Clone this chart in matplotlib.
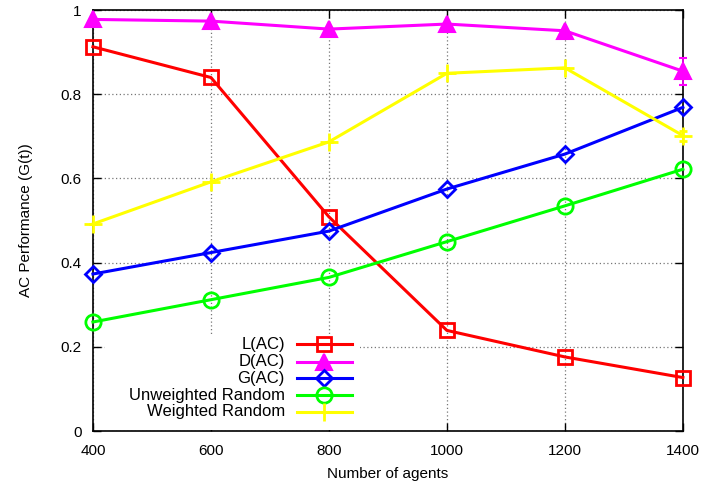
import matplotlib
matplotlib.use("Agg")
import matplotlib.pyplot as plt
from matplotlib.patches import Rectangle

plt.rcParams['font.family'] = ['Liberation Sans', 'DejaVu Sans']

# data
agents = [400, 600, 800, 1000, 1200, 1400]
l_ac = [0.913, 0.840, 0.509, 0.239, 0.176, 0.127]
d_ac = [0.978, 0.974, 0.955, 0.967, 0.951, 0.855]
d_err = [0.0, 0.0, 0.0, 0.0, 0.0, 0.032]
g_ac = [0.373, 0.424, 0.475, 0.575, 0.658, 0.769]
unweighted = [0.259, 0.312, 0.365, 0.450, 0.535, 0.622]
weighted = [0.492, 0.592, 0.687, 0.850, 0.863, 0.702]
weighted_err = [0.0, 0.0, 0.0, 0.0, 0.0, 0.012]

series_names = ['L(AC)', 'D(AC)', 'G(AC)', 'Unweighted Random', 'Weighted Random']

x_ticks = [400, 600, 800, 1000, 1200, 1400]
y_ticks = [0, 0.2, 0.4, 0.6, 0.8, 1]
y_ticklabels = ['0', '0.2', '0.4', '0.6', '0.8', '1']

# style per series (gnuplot-like)
styles = [
    dict(color='#ff0000', marker='s', ms=10, mfc='none', mew=2),
    dict(color='#ff00ff', marker='^', ms=11, mew=1.5),
    dict(color='#0000ff', marker='D', ms=8, mfc='none', mew=2),
    dict(color='#00ff00', marker='o', ms=11, mfc='none', mew=2),
    dict(color='#ffff00', marker='+', ms=13, mew=2),
]
values = [l_ac, d_ac, g_ac, unweighted, weighted]
errors = [None, d_err, None, None, weighted_err]

fig = plt.figure(figsize=(7.04, 4.84), dpi=100)
ax = fig.add_axes([0.132, 0.1095, 0.838, 0.8695])

lw = 2.2
for vals, err, st in zip(values, errors, styles):
    if err is None:
        ax.plot(agents, vals, lw=lw, clip_on=False, zorder=3, **st)
    else:
        ax.errorbar(agents, vals, yerr=err, lw=lw, capsize=3, elinewidth=1.2,
                    clip_on=False, zorder=3, **st)

ax.set_xlim(400, 1400)
ax.set_ylim(0, 1)
ax.set_xticks(x_ticks)
ax.set_yticks(y_ticks)
ax.set_yticklabels(y_ticklabels)
ax.tick_params(direction='in', top=True, right=True, length=6, width=1,
               labelsize=11)
ax.tick_params(axis='x', pad=9)
ax.tick_params(axis='y', pad=8)
ax.grid(True, color='#777777', linestyle=(0, (1, 2)), lw=0.9)
ax.set_axisbelow(True)
for s in ax.spines.values():
    s.set_linewidth(1.2)

ax.set_xlabel('Number of agents', fontsize=11, labelpad=7)
ax.set_ylabel('AC Performance (G(t))', fontsize=11, labelpad=20)

# key: labels right-aligned, sample line to the right (gnuplot style)
ax.add_patch(Rectangle((0.02, 0.003), 0.433, 0.225, transform=ax.transAxes,
                       facecolor='white', edgecolor='none', zorder=2))
row_y = [0.2067, 0.1647, 0.1252, 0.0855, 0.0459]
for name, st, y in zip(series_names, styles, row_y):
    ax.text(0.3254, y, name, transform=ax.transAxes, ha='right', va='center',
            fontsize=12, zorder=4)
    ax.plot([0.3458, 0.439], [y, y], transform=ax.transAxes, color=st['color'],
            lw=lw, clip_on=False, zorder=4)
    ax.plot([0.3924], [y], transform=ax.transAxes, lw=0, clip_on=False,
            zorder=4, **st)

fig.savefig('out.png', dpi=100, facecolor='white')
